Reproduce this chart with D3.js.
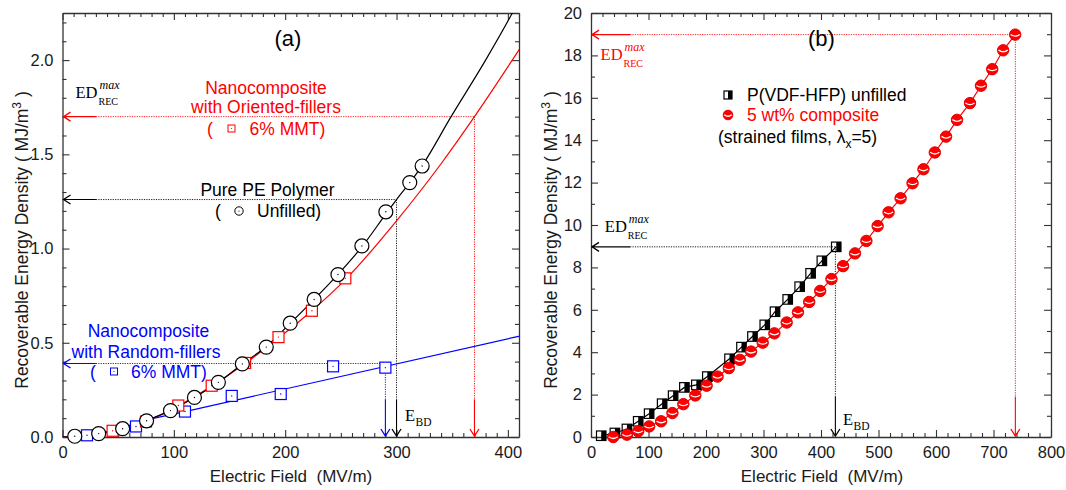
<!DOCTYPE html>
<html><head><meta charset="utf-8">
<script src="https://cdn.jsdelivr.net/npm/d3@7"></script>
<style>body{margin:0;background:#fff}svg{display:block}</style>
</head><body>
<svg id="c" width="1066" height="490"></svg>
<script>
// ---------- Panel (a) data ----------
const peField = [11,32.5,54,75.5,97,118.5,140,161.5,183,204.5,226,247.4,268.9,290.4,311.9,323];
const peED    = [0.004,0.018,0.044,0.086,0.14,0.21,0.29,0.388,0.477,0.604,0.73,0.862,1.014,1.195,1.35,1.438];
const oriField = [45,75,104,134,164,194,224,254];
const oriED    = [0.033,0.082,0.167,0.272,0.393,0.53,0.67,0.842];
const rndField = [22,66,110,152,196,243,290];
const rndED    = [0.009,0.056,0.135,0.218,0.228,0.375,0.368];
const peFitField = [0,11,32,54,75,97,118,140,161,183,204,226,247,269,290,300,312,323,349,380,404,412];
const peFitED    = [0,0.004,0.018,0.045,0.087,0.14,0.208,0.29,0.385,0.48,0.6,0.73,0.86,1.01,1.18,1.26,1.35,1.44,1.7,2.0,2.25,2.34];
const oriFitField = [0,45,75,104,134,164,194,224,254,300,340,370,411];
const oriFitED    = [0,0.03,0.085,0.165,0.27,0.39,0.525,0.67,0.835,1.147,1.45,1.7,2.063];
const rndFitField = [0,22,45,75,110,411];
const rndFitED    = [0,0.008,0.035,0.09,0.135,0.536];
const aBD   = [290, 300, 370];      // breakdown fields: random, pure, oriented
const aEDmax = [0.39, 1.26, 1.7];
const aTop  = [0.37, 1.26, 1.7];
const aColors = ['#0000ff', '#000000', '#ff0000'];
const aXTicks = [0,100,200,300,400];
const aYTicks = [0,0.5,1.0,1.5,2.0];

// ---------- Panel (b) data ----------
const pvdfField = [17.8,41.6,62.5,82.1,101.1,123.7,142.8,162.4,183.2,202.3,240.9,261.7,280.8,302.2,320,342.1,362.9,381.9,401.5,426.5];
const pvdfED    = [0.06,0.19,0.38,0.74,1.1,1.57,1.95,2.34,2.46,2.85,3.69,4.24,4.74,5.29,5.91,6.49,7.09,7.72,8.31,8.97];
const compField = [38.7,62.5,82.1,101.1,122,141.6,160.6,181.4,201.1,220.1,239.7,258.8,278.4,298.6,318.9,340.3,359.9,379.5,398.6,418.2,438.4,459.2,478.9,498.5,517.5,538.4,559.2,578.2,597.9,617.5,636.5,659.1,678.2,697.8,716.8,737.7];
const compED    = [0.0,0.11,0.27,0.5,0.74,1.13,1.55,1.96,2.42,2.85,3.25,3.64,4.03,4.45,4.89,5.4,5.88,6.37,6.89,7.45,8.06,8.66,9.25,9.95,10.6,11.26,11.97,12.63,13.42,14.17,14.96,15.75,16.57,17.35,18.24,18.98];
const bBD    = [425, 738];
const bEDmax = [8.97, 18.98];
const bColors = ['#000000', '#ff0000'];
const bXTicks = [0,100,200,300,400,500,600,700,800];
const bYTicks = [0,2,4,6,8,10,12,14,16,18,20];

const FONT = "'Liberation Sans', Arial, Helvetica, sans-serif";
const SERIF = "'Liberation Serif', 'Times New Roman', serif";
const svg = d3.select('#c');

const xa = d3.scaleLinear().domain([0,410]).range([62.5,519]);
const ya = d3.scaleLinear().domain([0,2.25]).range([437,13]);
const xb = d3.scaleLinear().domain([0,800]).range([591,1051]);
const yb = d3.scaleLinear().domain([0,20]).range([437,13]);

function axes(x, y, majX, minX, majY, minY, fx, fy) {
  const [x0,x1] = x.range(), [y0,y1] = y.range();
  const g = svg.append('g');
  const add = (axis, tr, keepDomain) => {
    const a = g.append('g').attr('transform', tr).call(axis);
    a.attr('font-size', 16.5).attr('font-family', FONT).attr('color', '#333');
    a.selectAll('.tick line').attr('stroke-width', 1.1);
    a.selectAll('text').attr('fill', '#1a1a1a');
    if (keepDomain) a.select('.domain').attr('stroke-width', 1.3);
    else a.select('.domain').remove();
  };
  add(d3.axisBottom(x).tickValues(majX).tickSize(-7).tickSizeOuter(0).tickPadding(9).tickFormat(fx), `translate(0,${y0})`, true);
  add(d3.axisBottom(x).tickValues(minX).tickSize(-4).tickFormat(''), `translate(0,${y0})`, false);
  add(d3.axisTop(x).tickValues(majX).tickSize(-7).tickSizeOuter(0).tickFormat(''), `translate(0,${y1})`, true);
  add(d3.axisTop(x).tickValues(minX).tickSize(-4).tickFormat(''), `translate(0,${y1})`, false);
  add(d3.axisLeft(y).tickValues(majY).tickSize(-7).tickSizeOuter(0).tickPadding(9).tickFormat(fy), `translate(${x0},0)`, true);
  add(d3.axisLeft(y).tickValues(minY).tickSize(-4).tickFormat(''), `translate(${x0},0)`, false);
  add(d3.axisRight(y).tickValues(majY).tickSize(-7).tickSizeOuter(0).tickFormat(''), `translate(${x1},0)`, true);
  add(d3.axisRight(y).tickValues(minY).tickSize(-4).tickFormat(''), `translate(${x1},0)`, false);
}

axes(xa, ya, aXTicks, d3.range(10,411,10).filter(v => v % 100 !== 0),
     aYTicks, d3.range(1,23).map(i => i/10).filter(v => !aYTicks.includes(v)),
     d3.format('d'), d3.format('.1f'));
axes(xb, yb, bXTicks, d3.range(20,800,20).filter(v => v % 100 !== 0),
     bYTicks, d3.range(1,20,2), d3.format('d'), d3.format('d'));

// clip paths
const defs = svg.append('defs');
defs.append('clipPath').attr('id','clipA').append('rect')
  .attr('x', xa.range()[0]).attr('y', ya.range()[1]).attr('width', xa.range()[1]-xa.range()[0]).attr('height', ya.range()[0]-ya.range()[1]);
defs.append('clipPath').attr('id','clipB').append('rect')
  .attr('x', xb.range()[0]).attr('y', yb.range()[1]).attr('width', xb.range()[1]-xb.range()[0]).attr('height', yb.range()[0]-yb.range()[1]);

function text(x, y, str, opts = {}) {
  return svg.append('text').attr('x', x).attr('y', y).text(str)
    .attr('font-family', opts.family || FONT).attr('font-size', opts.size || 17.5)
    .attr('fill', opts.fill || '#000').attr('text-anchor', opts.anchor || 'start')
    .attr('font-style', opts.style || 'normal');
}

// ---------- Arrows ----------
function hArrow(x, y, xSolidEnd, xEnd, yv, color) {
  const py = y(yv), x0 = x.range()[0] + 1;
  svg.append('line').attr('x1', x0).attr('x2', x(xSolidEnd)).attr('y1', py).attr('y2', py)
    .attr('stroke', color).attr('stroke-width', 1.1);
  svg.append('line').attr('x1', x(xSolidEnd)).attr('x2', x(xEnd)).attr('y1', py).attr('y2', py)
    .attr('stroke', color).attr('stroke-width', 0.9).attr('stroke-dasharray', '1.2,1.2');
  svg.append('path').attr('d', `M${x0+7},${py-4.5} L${x0},${py} L${x0+7},${py+4.5}`)
    .attr('fill','none').attr('stroke', color).attr('stroke-width', 1.3);
}
function vArrow(x, y, xv, yTop, ySolidTop, color) {
  const px = x(xv), y0 = y.range()[0] - 1;
  svg.append('line').attr('x1', px).attr('x2', px).attr('y1', y(yTop)).attr('y2', y(ySolidTop))
    .attr('stroke', color).attr('stroke-width', 0.9).attr('stroke-dasharray', '1.2,1.2');
  svg.append('line').attr('x1', px).attr('x2', px).attr('y1', y(ySolidTop)).attr('y2', y0)
    .attr('stroke', color).attr('stroke-width', 1.1);
  svg.append('path').attr('d', `M${px-4.5},${y0-7} L${px},${y0} L${px+4.5},${y0-7}`)
    .attr('fill','none').attr('stroke', color).attr('stroke-width', 1.3);
}

aBD.forEach((e, i) => {
  hArrow(xa, ya, 30, e, aEDmax[i], aColors[i]);
  vArrow(xa, ya, e, aTop[i], 0.2, aColors[i]);
});
bBD.forEach((e, i) => {
  hArrow(xb, yb, 68, e, bEDmax[i], bColors[i]);
  vArrow(xb, yb, e, bEDmax[i], 1.91, bColors[i]);
});

// ---------- Panel (a) curves & markers ----------
function curve(x, y, xs, ys, color, clip, smooth) {
  const line = d3.line().x(d => x(d[0])).y(d => y(d[1]));
  if (smooth) line.curve(d3.curveMonotoneX);
  svg.append('path').datum(d3.zip(xs, ys)).attr('d', line)
    .attr('fill','none').attr('stroke', color).attr('stroke-width', 1.2)
    .attr('clip-path', `url(#${clip})`);
}
curve(xa, ya, rndFitField, rndFitED, '#0000ff', 'clipA', true);
curve(xa, ya, oriFitField, oriFitED, '#ff0000', 'clipA', true);
curve(xa, ya, peFitField, peFitED, '#000000', 'clipA', true);

function openSquare(cx, cy, s, color) {
  svg.append('rect').attr('x', cx-s/2).attr('y', cy-s/2).attr('width', s).attr('height', s)
    .attr('fill','#fff').attr('stroke', color).attr('stroke-width', 1.2);
  svg.append('circle').attr('cx', cx).attr('cy', cy).attr('r', 0.7).attr('fill', color);
}
function openCircle(cx, cy, r, color) {
  svg.append('circle').attr('cx', cx).attr('cy', cy).attr('r', r)
    .attr('fill','#fff').attr('stroke', color).attr('stroke-width', 1.2);
  svg.append('circle').attr('cx', cx).attr('cy', cy).attr('r', 0.7).attr('fill', color);
}
rndField.forEach((e,i) => openSquare(xa(e), ya(rndED[i]), 11, '#0000ff'));
oriField.forEach((e,i) => openSquare(xa(e), ya(oriED[i]), 11, '#ff0000'));
peField.forEach((e,i) => openCircle(xa(e), ya(peED[i]), 7, '#000'));

// ---------- Panel (b) curves & markers ----------
curve(xb, yb, pvdfField, pvdfED, '#000', 'clipB', false);
curve(xb, yb, compField, compED, '#ff0000', 'clipB', false);

function halfSquare(cx, cy, s) {
  svg.append('rect').attr('x', cx).attr('y', cy-s/2).attr('width', s/2).attr('height', s).attr('fill','#000');
  svg.append('rect').attr('x', cx-s/2).attr('y', cy-s/2).attr('width', s).attr('height', s)
    .attr('fill','none').attr('stroke','#000').attr('stroke-width', 1.2);
}
function ball(cx, cy, r) {
  svg.append('circle').attr('cx', cx).attr('cy', cy).attr('r', r)
    .attr('fill','#ff0000').attr('stroke','#e00000').attr('stroke-width', 1);
  svg.append('path').attr('d', `M${cx-r*0.8},${cy-0.2} Q${cx},${cy+r*0.55} ${cx+r*0.8},${cy-0.2}`)
    .attr('fill','none').attr('stroke','#fff').attr('stroke-width', 1.3);
}
pvdfField.forEach((e,i) => halfSquare(xb(e), yb(pvdfED[i]), 9.5));
compField.forEach((e,i) => ball(xb(e), yb(compED[i]), 5.7));

// ---------- Annotations (a) ----------
text(288, 46, '(a)', {size: 22, anchor: 'middle'});
function edMax(x, y, color) {
  text(x, y, 'ED', {family: SERIF, size: 16.5, fill: color});
  text(x + 24, y - 9, 'max', {family: SERIF, size: 12, fill: color, style: 'italic'});
  text(x + 23, y + 7, 'REC', {family: SERIF, size: 10, fill: color});
}
edMax(75.5, 98, '#000');
text(266, 94, 'Nanocomposite', {fill: '#ff0000', anchor: 'middle'});
text(266, 112.5, 'with Oriented-fillers', {fill: '#ff0000', anchor: 'middle'});
text(207, 134.5, '(', {fill: '#ff0000'});
svg.append('rect').attr('x', 228).attr('y', 125).attr('width', 7).attr('height', 7).attr('fill','none').attr('stroke','#ff0000').attr('stroke-width', 1);
svg.append('circle').attr('cx', 231.5).attr('cy', 128.5).attr('r', 0.6).attr('fill','#ff0000');
text(249.5, 134.5, '6% MMT)', {fill: '#ff0000'});

text(267.5, 195.5, 'Pure PE Polymer', {anchor: 'middle'});
text(215, 217, '(');
svg.append('circle').attr('cx', 239).attr('cy', 211).attr('r', 4.2).attr('fill','none').attr('stroke','#000').attr('stroke-width', 1);
svg.append('circle').attr('cx', 239).attr('cy', 211).attr('r', 0.6).attr('fill','#000');
text(257, 217, 'Unfilled)');

text(148.5, 336.5, 'Nanocomposite', {fill: '#0000ff', anchor: 'middle'});
text(146, 357.5, 'with Random-fillers', {fill: '#0000ff', anchor: 'middle'});
text(90, 377.5, '(', {fill: '#0000ff'});
svg.append('rect').attr('x', 110.5).attr('y', 368).attr('width', 7).attr('height', 7).attr('fill','none').attr('stroke','#0000ff').attr('stroke-width', 1);
svg.append('circle').attr('cx', 114).attr('cy', 371.5).attr('r', 0.6).attr('fill','#0000ff');
text(131, 377.5, '6% MMT)', {fill: '#0000ff'});

function ebd(x, y) {
  text(x, y, 'E', {family: SERIF, size: 16.5});
  text(x + 10.5, y + 5.5, 'BD', {family: SERIF, size: 11.5});
}
ebd(405, 420.5);

// ---------- Annotations (b) ----------
text(821.5, 46, '(b)', {size: 22, anchor: 'middle'});
edMax(600.6, 59.5, '#ff0000');
edMax(604.8, 232, '#000');
halfSquare(728, 95, 8);
text(747, 100.5, 'P(VDF-HFP) unfilled', {size: 17.5});
ball(728, 115, 4.8);
text(747, 121, '5 wt% composite', {size: 17.5, fill: '#ff0000'});
const lam = text(718, 143, '(strained films, ', {size: 17.5});
lam.append('tspan').text('λ');
lam.append('tspan').attr('dy', 5).attr('font-size', 12).text('x');
lam.append('tspan').attr('dy', -5).text('=5)');
ebd(843, 424.5);

// ---------- Axis titles ----------
function xTitle(cx) {
  text(cx, 482, 'Electric Field  (MV/m)', {size: 17, anchor: 'middle', fill: '#1a1a1a'})
    .style('white-space', 'pre');
}
xTitle(291);
xTitle(822);
function yTitle(cx) {
  const t = svg.append('text').attr('transform', `translate(${cx},240) rotate(-90)`)
    .attr('text-anchor','middle').attr('font-family', FONT).attr('font-size', 17.5).attr('fill','#1a1a1a')
    .style('white-space','pre');
  t.append('tspan').text('Recoverable Energy Density ( MJ/m');
  t.append('tspan').attr('dy', -7).attr('font-size', 12).text('3');
  t.append('tspan').attr('dy', 7).text(' )');
}
yTitle(28);
yTitle(557);
</script>
</body></html>
